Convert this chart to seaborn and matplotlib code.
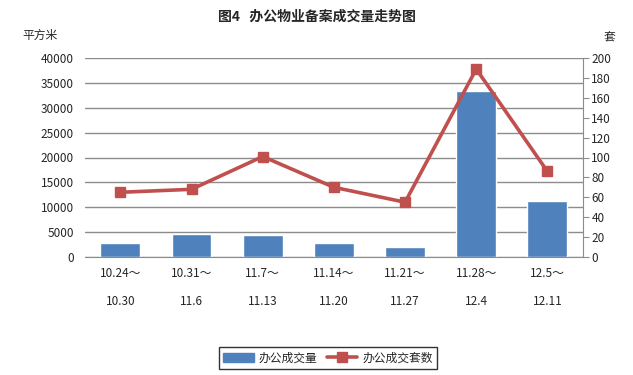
import numpy as np
import matplotlib
matplotlib.use("Agg")
import matplotlib.pyplot as plt
import seaborn as sns
from matplotlib.patches import Patch
from matplotlib.lines import Line2D

weeks = ["10.24～\n10.30", "10.31～\n11.6", "11.7～\n11.13", "11.14～\n11.20",
         "11.21～\n11.27", "11.28～\n12.4", "12.5～\n12.11"]
area = [2800, 4600, 4400, 2800, 2000, 33400, 11200]
units = [65, 68, 101, 70, 55, 189, 86]

sns.set_style("white")
plt.rcParams['font.family'] = ['Noto Sans CJK SC', 'DejaVu Sans']

bar_color = "#4F81BD"
line_color = "#C0504D"
grid_color = "#8C8C8C"

fig = plt.figure(figsize=(6.33, 3.75), dpi=100)
ax = fig.add_axes([0.134, 0.315, 0.787, 0.53])

sns.barplot(x=weeks, y=area, color=bar_color, width=0.56, saturation=1, ax=ax, zorder=2)
ax.set_ylim(0, 40000)
ax.set_yticks(np.arange(0, 40001, 5000))
ax.set_xlim(-0.5, len(weeks) - 0.5)
ax.yaxis.grid(True, color=grid_color, linewidth=1)
ax.set_axisbelow(True)
for s in ["top", "left", "right"]:
    ax.spines[s].set_visible(False)
ax.spines["bottom"].set_color(grid_color)
ax.tick_params(axis="y", length=0, labelsize=8.5, pad=8)
ax.tick_params(axis="x", length=0, labelsize=8.5, pad=7)
for lab in ax.get_xticklabels():
    lab.set_linespacing(2.5)
    lab.set_verticalalignment("top")

ax2 = ax.twinx()
x = np.arange(len(weeks))
ax2.plot(x, units, color=line_color, linewidth=2.6, marker="s", markersize=7.5,
         markerfacecolor=line_color, markeredgecolor=line_color, zorder=3)
ax2.set_ylim(0, 200)
ax2.set_yticks(np.arange(0, 201, 20))
for s in ["top", "left", "bottom"]:
    ax2.spines[s].set_visible(False)
ax2.spines["right"].set_color(grid_color)
ax2.tick_params(axis="y", direction="out", length=4, color=grid_color, labelsize=8.5, pad=2)

fig.text(0.5, 0.955, "图4   办公物业备案成交量走势图", ha="center", va="center",
         fontsize=10, fontweight="bold")
fig.text(0.035, 0.905, "平方米", ha="left", va="center", fontsize=8.5)
fig.text(0.962, 0.9, "套", ha="center", va="center", fontsize=8.5)

handles = [Patch(facecolor=bar_color, edgecolor=bar_color),
           Line2D([0], [0], color=line_color, linewidth=2.6, marker="s", markersize=7.5)]
leg = fig.legend(handles, ["办公成交量", "办公成交套数"], loc="center",
                 bbox_to_anchor=(0.518, 0.045), ncol=2, fontsize=8.5, frameon=True,
                 fancybox=False, edgecolor="black", handlelength=2.6,
                 columnspacing=0.8, handletextpad=0.4, borderpad=0.35)
leg.get_frame().set_linewidth(1)

fig.savefig("out.png", dpi=100)
